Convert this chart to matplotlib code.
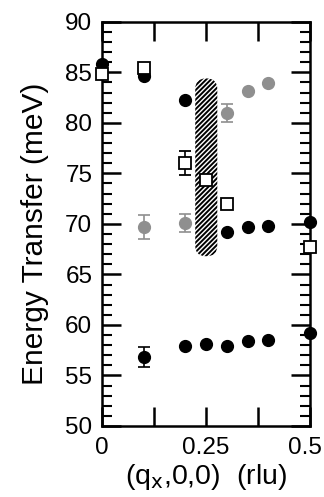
import matplotlib
matplotlib.use("Agg")
import matplotlib.pyplot as plt
import matplotlib.transforms as mtransforms
from matplotlib.patches import FancyBboxPatch
from matplotlib.ticker import MultipleLocator, FixedLocator
import numpy as np

plt.rcParams['font.family'] = ['Liberation Sans', 'DejaVu Sans']
plt.rcParams['hatch.linewidth'] = 1.4

# black filled circles
black_q = [0.0, 0.1, 0.2, 0.1, 0.2, 0.25, 0.3, 0.35, 0.4, 0.3, 0.35, 0.4, 0.5, 0.5]
black_E = [85.8, 84.6, 82.3, 56.8, 57.9, 58.1, 57.9, 58.4, 58.5, 69.2, 69.7, 69.8, 70.2, 59.2]
black_err = [0, 0, 0, 1.0, 0, 0, 0, 0, 0, 0, 0, 0, 0, 0]

# gray filled circles
gray_q = [0.1, 0.2, 0.3, 0.35, 0.4]
gray_E = [69.7, 70.1, 81.0, 83.2, 83.9]
gray_err = [1.2, 0.9, 0.9, 0, 0]

# open squares
sq_q = [0.0, 0.1, 0.2, 0.25, 0.3, 0.5]
sq_E = [84.8, 85.4, 76.0, 74.3, 72.0, 67.7]
sq_err = [0, 0, 1.2, 0, 0, 0]

# hatched band (q range, energy range)
band_q = [0.224, 0.277]
band_E = [66.8, 84.4]

fig = plt.figure(figsize=(3.24, 4.97), dpi=100)
ax = fig.add_axes([0.315, 0.143, 0.642, 0.813])
ax.set_xlim(0, 0.5)
ax.set_ylim(50, 90)

# hatched band
w = band_q[1] - band_q[0]
h = band_E[1] - band_E[0]
px_per_q = 0.642 * 324 / 0.5
px_per_E = 0.813 * 497 / 40
aspect = px_per_q / px_per_E
band = FancyBboxPatch((band_q[0], band_E[0]), w, h,
                      boxstyle="round,pad=0,rounding_size=%f" % (w / 2 * 0.95),
                      mutation_aspect=aspect, facecolor='none', edgecolor='black',
                      linewidth=0, hatch='///////', zorder=1)
ax.add_patch(band)

ms = 8.5
ax.errorbar(black_q, black_E, yerr=black_err, fmt='o', color='black', ms=ms,
            elinewidth=1.2, capsize=4, capthick=1.2, clip_on=False, zorder=3)
ax.errorbar(gray_q, gray_E, yerr=gray_err, fmt='o', color='#8f8f8f', ms=ms,
            elinewidth=1.2, capsize=4, capthick=1.2, clip_on=False, zorder=3)
ax.errorbar(sq_q, sq_E, yerr=sq_err, fmt='s', mfc='white', mec='black', mew=1.3,
            ecolor='black', ms=8, elinewidth=1.2, capsize=4, capthick=1.2,
            clip_on=False, zorder=4)

for s in ax.spines.values():
    s.set_linewidth(1.8)

ax.xaxis.set_major_locator(FixedLocator([0, 0.125, 0.25, 0.375, 0.5]))
ax.set_xticklabels(['0', '', '0.25', '', '0.5'])
ax.yaxis.set_major_locator(MultipleLocator(5))
ax.yaxis.set_minor_locator(MultipleLocator(1))
ax.tick_params(axis='both', which='major', direction='in', length=14, width=1.8,
               top=True, right=True, labelsize=17.5)
ax.tick_params(axis='y', which='major', pad=7)
ax.tick_params(axis='x', which='major', pad=8)
ax.tick_params(axis='y', which='minor', direction='in', length=7, width=1.5,
               right=True, left=True)

# shift last x tick label slightly left so it stays inside the figure
lbl = ax.get_xticklabels()[-1]
lbl.set_transform(lbl.get_transform() + mtransforms.ScaledTranslation(-5 / 100, 0, fig.dpi_scale_trans))

ax.set_ylabel('Energy Transfer (meV)', fontsize=21.5, labelpad=12)
ax.yaxis.label.set_y(0.475)
ax.set_xlabel(r'(q$_{\rm x}$,0,0)  (rlu)', fontsize=20.5, labelpad=2)

fig.savefig('out.png', dpi=100)
